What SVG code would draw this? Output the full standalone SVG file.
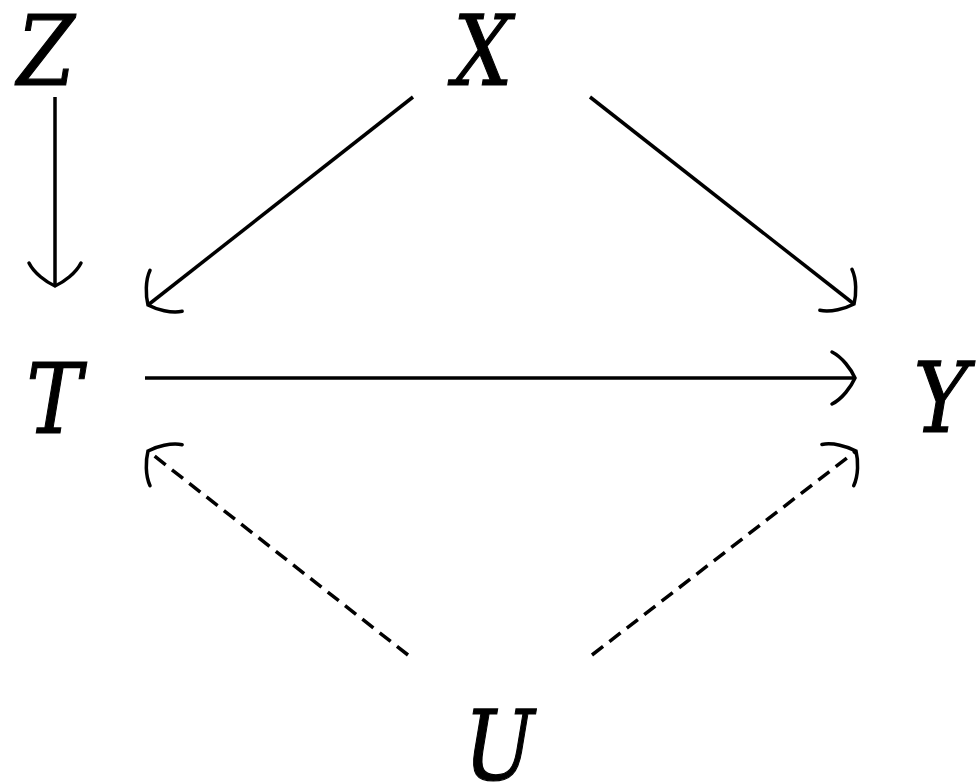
<svg xmlns="http://www.w3.org/2000/svg" width="977" height="784" viewBox="0 0 977 784">
<style>
.e{fill:none;stroke:#000;stroke-width:3.5}
.d{stroke-dasharray:14 8}
</style>
<defs>
<marker id="ah" markerUnits="userSpaceOnUse" markerWidth="60" markerHeight="60" viewBox="-30 -30 60 60" refX="0" refY="0" orient="auto" overflow="visible">
<path d="M -23 -26 C -13 -21 -4 -9 0 0 C -4 9 -13 21 -23 26" fill="none" stroke="#000" stroke-width="3.5" stroke-linecap="round"/>
</marker>
</defs>
<rect width="977" height="784" fill="#fff"/>
<g id="Z"><text x="46" y="85" font-family="DejaVu Serif" font-style="italic" font-size="98" text-anchor="middle" stroke="#000" stroke-width="1.2" transform="translate(46 0) scale(0.85 1) translate(-46 0)">Z</text></g>
<g id="X"><text x="483" y="85" font-family="DejaVu Serif" font-style="italic" font-size="98" text-anchor="middle" stroke="#000" stroke-width="1.2" transform="translate(483 0) scale(0.85 1) translate(-483 0)">X</text></g>
<g id="T"><text x="54" y="433" font-family="DejaVu Serif" font-style="italic" font-size="98" text-anchor="middle" stroke="#000" stroke-width="1.2" transform="translate(54 0) scale(0.85 1) translate(-54 0)">T</text></g>
<g id="Y"><text x="941" y="432" font-family="DejaVu Serif" font-style="italic" font-size="98" text-anchor="middle" stroke="#000" stroke-width="1.2" transform="translate(941 0) scale(0.85 1) translate(-941 0)">Y</text></g>
<g id="U"><text x="499" y="780" font-family="DejaVu Serif" font-style="italic" font-size="98" text-anchor="middle" stroke="#000" stroke-width="1.2" transform="translate(499 0) scale(0.85 1) translate(-499 0)">U</text></g>
<g id="edges">
<line class="e" x1="55" y1="97" x2="55" y2="286" marker-end="url(#ah)"/>
<line class="e" x1="413" y1="97" x2="148" y2="305" marker-end="url(#ah)"/>
<line class="e" x1="590" y1="97" x2="854" y2="304" marker-end="url(#ah)"/>
<line class="e" x1="145" y1="378" x2="855" y2="378" marker-end="url(#ah)"/>
<line class="e d" x1="408" y1="655" x2="148" y2="451" marker-end="url(#ah)"/>
<line class="e d" x1="592" y1="655" x2="856" y2="451" marker-end="url(#ah)"/>
</g>
</svg>
